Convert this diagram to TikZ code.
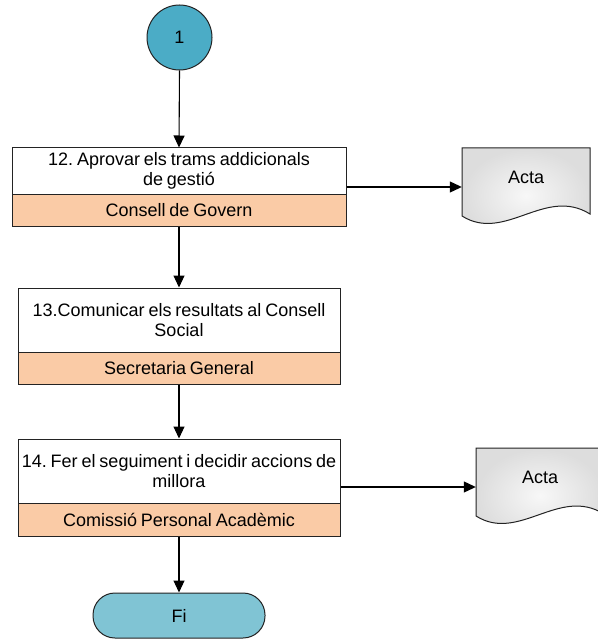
\documentclass[tikz,border=0pt]{standalone}
\usepackage{fontspec}
\setmainfont{Liberation Sans}
\usetikzlibrary{arrows.meta,calc}
\definecolor{tealA}{RGB}{75,172,198}
\definecolor{tealB}{RGB}{128,196,212}
\definecolor{bandc}{RGB}{250,203,166}
\definecolor{edgec}{RGB}{35,35,35}
\newcommand{\diagfont}{\fontsize{18}{20}\selectfont\frenchspacing\spaceskip=3.9pt plus 1pt minus 0.5pt\relax}
\begin{document}
\begin{tikzpicture}[x=1pt,y=-1pt,
  font=\diagfont,
  box/.style={draw=edgec, line width=1pt, rectangle, inner sep=0pt, align=center, fill=white},
  bandbox/.style={box, fill=bandc},
  arr/.style={-{Triangle[length=12pt,width=11pt]}, line width=1.1pt, draw=black},
  hidden/.style={rectangle, inner sep=0pt, draw=none},
  docshape/.pic={
    \shade[draw=edgec, line width=1pt, inner color=gray!6, outer color=gray!27]
      (0,0) -- (128,0) -- (128,66) .. controls (83,38) and (43,95) .. (0,68) -- cycle;
    \node[inner sep=0pt] (-txt) at (64,29) {Acta};
  }]
\useasboundingbox (0,0) rectangle (597,639);

% start circle
\node[circle, draw=edgec, line width=1pt, fill=tealA, minimum size=65pt, inner sep=0pt] (start) at (179.5,37.5) {1};

% box 12
\node[box, minimum width=334pt, minimum height=46pt] (b1u) at (179,171) {12. Aprovar els trams addicionals\\de gestió};
\node[bandbox, minimum width=334pt, minimum height=32pt] (b1b) at (179,210) {Consell de Govern};

% box 13
\node[box, minimum width=322pt, minimum height=64pt] (b2u) at (179,320) {13.Comunicar els resultats al Consell\\Social};
\node[bandbox, minimum width=322pt, minimum height=32pt] (b2b) at (179,368) {Secretaria General};

% box 14
\node[box, minimum width=322pt, minimum height=64pt] (b3u) at (179,471) {14. Fer el seguiment i decidir accions de\\millora};
\node[bandbox, minimum width=322pt, minimum height=33pt] (b3b) at (179,519.5) {Comissió Personal Acadèmic};

% end terminator
\node[draw=edgec, line width=1pt, fill=tealB, rounded corners=22pt, minimum width=172pt, minimum height=45pt, inner sep=0pt] (fi) at (179,615.5) {Fi};

% documents
\pic (d1) at (462,148) {docshape};
\pic (d2) at (476,448) {docshape};
\node[hidden, minimum width=128pt, minimum height=78pt] (doc1) at (526,187) {};
\node[hidden, minimum width=128pt, minimum height=78pt] (doc2) at (540,487) {};

% connectors
\draw[arr] (start.south) -- (b1u.north);
\draw[arr] (b1b.south) -- (b2u.north);
\draw[arr] (b2b.south) -- (b3u.north);
\draw[arr] (b3b.south) -- (fi.north);
\draw[arr] (b1u.east |- doc1.west) -- (doc1.west);
\draw[arr] (b3u.east |- doc2.west) -- (doc2.west);
\end{tikzpicture}
\end{document}
